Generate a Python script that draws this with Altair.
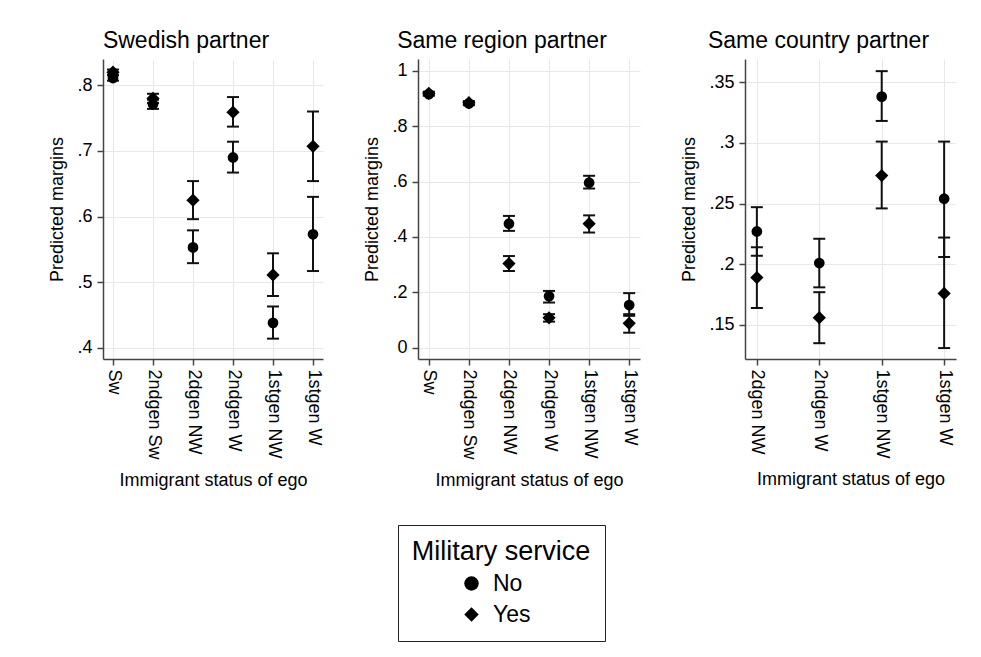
import altair as alt
import pandas as pd

FONT = "Liberation Sans"

# ---- data ----
status6 = ["Sw", "2ndgen Sw", "2dgen NW", "2ndgen W", "1stgen NW", "1stgen W"]
status4 = ["2dgen NW", "2ndgen W", "1stgen NW", "1stgen W"]
groups = ["No", "Yes"]

# Swedish partner
swe_no_est = [0.811, 0.771, 0.553, 0.690, 0.438, 0.573]
swe_no_lo = [0.807, 0.764, 0.529, 0.667, 0.414, 0.517]
swe_no_hi = [0.815, 0.778, 0.579, 0.714, 0.463, 0.630]
swe_yes_est = [0.820, 0.780, 0.625, 0.759, 0.511, 0.707]
swe_yes_lo = [0.816, 0.773, 0.596, 0.737, 0.479, 0.654]
swe_yes_hi = [0.824, 0.787, 0.654, 0.782, 0.544, 0.760]

# Same region partner
reg_no_est = [0.916, 0.882, 0.448, 0.186, 0.596, 0.154]
reg_no_lo = [0.910, 0.876, 0.422, 0.163, 0.575, 0.115]
reg_no_hi = [0.922, 0.888, 0.476, 0.205, 0.621, 0.197]
reg_yes_est = [0.919, 0.885, 0.304, 0.108, 0.448, 0.088]
reg_yes_lo = [0.913, 0.879, 0.277, 0.094, 0.416, 0.054]
reg_yes_hi = [0.925, 0.891, 0.331, 0.121, 0.478, 0.121]

# Same country partner
cty_no_est = [0.227, 0.201, 0.338, 0.254]
cty_no_lo = [0.207, 0.181, 0.318, 0.206]
cty_no_hi = [0.247, 0.221, 0.359, 0.301]
cty_yes_est = [0.189, 0.156, 0.273, 0.176]
cty_yes_lo = [0.164, 0.135, 0.246, 0.131]
cty_yes_hi = [0.214, 0.177, 0.301, 0.222]

swe_ticks = [0.4, 0.5, 0.6, 0.7, 0.8]
reg_ticks = [0, 0.2, 0.4, 0.6, 0.8, 1]
cty_ticks = [0.15, 0.2, 0.25, 0.3, 0.35]


def make_df(statuses, no_est, no_lo, no_hi, yes_est, yes_lo, yes_hi):
    rows = []
    for i, s in enumerate(statuses):
        rows.append(dict(status=s, military="No", est=no_est[i], lo=no_lo[i], hi=no_hi[i]))
        rows.append(dict(status=s, military="Yes", est=yes_est[i], lo=yes_lo[i], hi=yes_hi[i]))
    return pd.DataFrame(rows)


df_swe = make_df(status6, swe_no_est, swe_no_lo, swe_no_hi, swe_yes_est, swe_yes_lo, swe_yes_hi)
df_reg = make_df(status6, reg_no_est, reg_no_lo, reg_no_hi, reg_yes_est, reg_yes_lo, reg_yes_hi)
df_cty = make_df(status4, cty_no_est, cty_no_lo, cty_no_hi, cty_yes_est, cty_yes_lo, cty_yes_hi)

LABEL_EXPR = "replace(format(datum.value, '.2~f'), '0.', '.')"
INK = "#111111"


def panel(df, title, statuses, ydom, yticks, width, pad):
    xs = alt.X(
        "status:N",
        sort=statuses,
        scale=alt.Scale(type="point", domain=statuses, padding=pad),
        axis=alt.Axis(
            title="Immigrant status of ego",
            labelAngle=90,
            labelAlign="left",
            labelBaseline="middle",
            labelPadding=4,
            titlePadding=12,
        ),
    )
    ysc = alt.Scale(domain=ydom, nice=False, zero=False)
    yax = alt.Axis(
        title="Predicted margins",
        values=yticks,
        labelExpr=LABEL_EXPR,
        labelPadding=5,
        titlePadding=10,
    )
    base = alt.Chart(df)
    rule = base.mark_rule(color=INK, strokeWidth=2).encode(
        x=xs, y=alt.Y("lo:Q", scale=ysc, axis=yax), y2="hi:Q"
    )
    cap_lo = base.mark_tick(color=INK, size=12, thickness=2, opacity=1).encode(
        x=xs, y=alt.Y("lo:Q", scale=ysc, axis=yax)
    )
    cap_hi = base.mark_tick(color=INK, size=12, thickness=2, opacity=1).encode(
        x=xs, y=alt.Y("hi:Q", scale=ysc, axis=yax)
    )
    pts = base.mark_point(filled=True, opacity=1, color="black").encode(
        x=xs,
        y=alt.Y("est:Q", scale=ysc, axis=yax),
        shape=alt.Shape(
            "military:N",
            scale=alt.Scale(domain=groups, range=["circle", "diamond"]),
            legend=alt.Legend(
                title="Military service",
                orient="none",
                legendX=295,
                legendY=466,
                direction="vertical",
                strokeColor="#222222",
                fillColor="white",
                padding=14,
                titleFontSize=27,
                titleFont=FONT,
                titleFontWeight="normal",
                titleColor="black",
                titleAnchor="middle",
                titlePadding=6,
                labelFontSize=23,
                labelFont=FONT,
                labelColor="black",
                labelOffset=10,
                symbolSize=210,
                symbolFillColor="black",
                symbolStrokeColor="black",
                symbolOffset=-12,
                rowPadding=7,
            ),
        ),
        size=alt.condition(alt.datum.military == "Yes", alt.value(175), alt.value(115)),
    )
    return alt.layer(rule, cap_lo, cap_hi, pts).properties(
        width=width,
        height=300,
        title=alt.TitleParams(
            title,
            frame="bounds",
            anchor="middle",
            fontSize=23,
            font=FONT,
            fontWeight="normal",
            color="black",
            offset=6,
        ),
    )


p1 = panel(df_swe, "Swedish partner", status6, [0.383, 0.84], swe_ticks, 220, 0.25)
p2 = panel(df_reg, "Same region partner", status6, [-0.041, 1.043], reg_ticks, 222, 0.27)
p3 = panel(df_cty, "Same country partner", status4, [0.122, 0.369], cty_ticks, 211, 0.19)

chart = (
    alt.hconcat(p1, p2, p3, spacing=40)
    .resolve_scale(y="independent", x="independent")
    .properties(padding={"left": 40, "top": 22, "right": 5, "bottom": 5})
    .configure_view(stroke=None)
    .configure_axis(
        labelFont=FONT,
        titleFont=FONT,
        labelFontSize=18,
        titleFontSize=18,
        titleFontWeight="normal",
        labelColor="black",
        titleColor="black",
        domainColor="#444444",
        domainWidth=1.5,
        tickColor="#444444",
        tickWidth=1.5,
        tickSize=6,
        grid=True,
        gridColor="#e8e8e8",
        gridWidth=1,
    )
)

chart.save("out.html", embed_options={"renderer": "svg", "actions": False})
